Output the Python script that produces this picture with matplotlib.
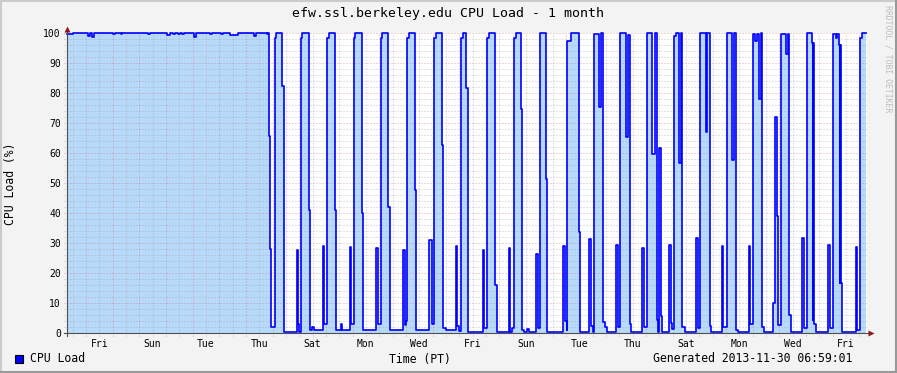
import matplotlib
matplotlib.use("Agg")
import matplotlib.pyplot as plt
from matplotlib.lines import Line2D
from matplotlib.patches import Rectangle

# hours since Thu 2013-10-31 07:00 PT, step values (CPU load %)
hours = [0.0, 5.1, 19.2, 20.7, 22.8, 24.0, 41.7, 43.2, 48.6, 49.8, 73.2, 74.7,
         89.7, 92.7, 95.7, 97.2, 100.2, 101.7, 103.8, 105.3, 114.3, 116.1,
         128.7, 130.2, 138.6, 140.7, 146.7, 153.6, 168.6, 170.1, 179.7, 180.9,
         182.1, 183.0, 183.9, 186.9, 188.1, 193.5, 195.0, 206.7, 207.6, 209.1,
         210.6, 211.8, 217.5, 219.0, 220.5, 221.9, 230.7, 231.6, 234.3, 235.5,
         241.2, 242.4, 246.6, 247.8, 255.0, 255.9, 258.0, 259.2, 265.2, 266.4,
         278.4, 279.6, 282.3, 283.5, 288.9, 291.0, 302.7, 303.9, 305.4, 306.0,
         307.5, 312.9, 314.4, 326.1, 328.2, 330.3, 331.8, 337.5, 338.7, 341.1,
         350.4, 351.3, 352.8, 354.9, 356.4, 359.4, 360.9, 374.4, 375.6, 377.7,
         379.5, 385.5, 387.0, 397.8, 399.0, 400.8, 402.3, 403.8, 408.3, 409.8,
         411.3, 414.3, 415.5, 422.4, 423.6, 425.7, 431.1, 432.3, 446.7, 447.9,
         449.7, 450.3, 453.3, 460.5, 461.4, 470.1, 471.3, 473.4, 474.3, 478.8,
         480.3, 482.7, 484.2, 486.0, 494.4, 495.6, 497.7, 503.1, 504.6, 506.4,
         507.3, 517.8, 519.6, 522.3, 526.8, 529.2, 530.7, 532.2, 533.1, 534.3,
         535.2, 541.8, 543.3, 544.5, 546.0, 548.1, 550.8, 552.3, 553.8, 556.2,
         566.4, 567.6, 570.0, 574.8, 576.3, 578.4, 579.3, 589.5, 590.7, 594.3,
         598.5, 600.0, 602.4, 603.9, 613.8, 615.0, 617.4, 619.2, 620.7, 622.8,
         624.3, 625.8, 627.3, 635.7, 637.5, 638.7, 639.6, 642.3, 647.1, 648.6,
         650.1, 651.6, 661.8, 663.0, 666.3, 670.2, 670.8, 671.2, 671.7, 672.1,
         672.6, 674.1, 685.2, 686.7, 689.1, 692.1, 693.3, 694.8, 695.4, 696.0,
         696.6, 697.2, 710.1, 711.3, 713.7, 715.2, 719.1]
load = [99.7, 100, 99.0, 100, 98.6, 100, 99.6, 100, 99.6, 100, 99.6, 100,
        99.3, 100, 99.6, 100, 99.6, 100, 99.6, 100, 98.6, 100,
        99.6, 100, 99.6, 100, 99.3, 100, 99.0, 100, 99.6, 100,
        65.6, 28.0, 1.9, 98.3, 100, 82.2, 0.3, 27.8, 3.0, 0.3,
        98.3, 100, 41.1, 1.1, 2.0, 0.9, 28.9, 3.0, 98.3, 100,
        41.1, 1.1, 3.0, 1.1, 28.6, 3.0, 98.3, 100, 40.0, 1.1,
        28.3, 3.0, 98.3, 100, 41.9, 1.1, 27.8, 2.7, 4.0, 98.3,
        100, 47.8, 1.1, 31.0, 3.0, 98.3, 100, 62.6, 1.7, 1.0,
        28.9, 2.3, 0.7, 98.3, 100, 81.7, 0.3, 27.8, 1.7, 98.3,
        100, 15.9, 0.3, 28.3, 0.3, 1.7, 98.3, 100, 74.7, 1.1,
        0.3, 1.5, 0.3, 26.4, 1.7, 100, 51.4, 0.4, 28.9, 3.9,
        1.0, 97.2, 100, 33.7, 0.3, 31.3, 2.3, 0.3, 99.7, 75.2,
        100, 3.7, 2.0, 0.3, 29.2, 2.0, 100, 65.2, 99.5, 3.0,
        0.3, 28.3, 2.0, 100, 59.7, 100, 4.3, 0.3, 61.7, 5.7,
        0.3, 29.2, 3.3, 1.5, 99.0, 100, 56.6, 100, 2.0, 0.3,
        31.7, 1.7, 100, 66.9, 100, 2.3, 0.3, 28.9, 2.0, 100,
        57.6, 100, 1.1, 0.3, 28.9, 3.0, 99.7, 97.2, 99.7, 78.0,
        100, 2.0, 0.3, 9.9, 71.9, 38.9, 2.7, 99.7, 93.0, 99.7,
        5.9, 0.3, 31.7, 1.7, 100, 98.3, 96.6, 4.5, 96.6, 4.5,
        3.0, 0.3, 29.4, 1.7, 99.7, 98.3, 99.7, 96.0, 16.8, 96.0,
        16.8, 0.3, 28.8, 1.1, 98.3, 100, 100]

day_labels = ["Fri", "Sun", "Tue", "Thu", "Sat", "Mon", "Wed", "Fri",
              "Sun", "Tue", "Thu", "Sat", "Mon", "Wed", "Fri"]
first_label = 29      # Fri noon
first_midnight = 17   # Fri 00:00
span = 720

W, H = 897, 373
mono = "DejaVu Sans Mono"
fig = plt.figure(figsize=(W / 100, H / 100), dpi=100, facecolor="#F3F3F3")
ax = fig.add_axes([67 / W, (H - 333) / H, 800 / W, 300 / H])
ax.set_facecolor("white")
ax.set_xlim(0, span)
ax.set_ylim(0, 100)
for s in ax.spines.values():
    s.set_visible(False)

ax.fill_between(hours, load, step="post", color="#B7D9FA", lw=0, zorder=1)

# grid (rrdtool style dotted, extends a bit beyond the axes as ticks)
px_x = span / 800.0
px_y = 100 / 300.0
dots = (0, (1, 2))
for v in range(0, 101, 2):
    major = v % 10 == 0
    ax.plot([-3 * px_x, span + 1 * px_x], [v, v], clip_on=False, lw=0.72, ls=dots,
            color="#C86464" if major else "#A0A0A0", alpha=0.55 if major else 0.6, zorder=2)
h = first_midnight - 12
while h < span:
    major = (h - first_midnight) % 24 == 0
    ax.plot([h, h], [-3 * px_y, 100], clip_on=False, lw=0.72, ls=dots,
            color="#C86464" if major else "#A0A0A0", alpha=0.55 if major else 0.6, zorder=2)
    h += 12

ax.step(hours, load, where="post", color="#0000FF", lw=1.2, zorder=3, clip_on=False)

# axes lines and arrows
ax.plot([0, 0], [-3 * px_y, 100 + 4 * px_y], color="#505050", lw=0.8, clip_on=False, zorder=4)
ax.plot([-3 * px_x, span + 3 * px_x], [0, 0], color="#505050", lw=0.8, clip_on=False, zorder=4)
ax.plot([0], [100 + 4 * px_y], marker="^", ms=5, color="#8B1A1A", clip_on=False, zorder=5, mec="none")
ax.plot([span + 4 * px_x], [0], marker=">", ms=5, color="#8B1A1A", clip_on=False, zorder=5, mec="none")

ax.set_yticks(range(0, 101, 10), [str(v) for v in range(0, 101, 10)])
ax.set_xticks([first_label + 48 * i for i in range(len(day_labels))], day_labels)
ax.tick_params(length=0, labelsize=7)
ax.tick_params(axis="y", pad=4.5)
ax.tick_params(axis="x", pad=4.5)
for lab in ax.get_xticklabels() + ax.get_yticklabels():
    lab.set_family(mono)

fig.text(448 / W, 1 - 13 / H, "efw.ssl.berkeley.edu CPU Load - 1 month",
         family=mono, fontsize=9.5, ha="center", va="center")
fig.text(11 / W, 1 - 184 / H, "CPU Load (%)", family=mono, fontsize=8.3,
         rotation=90, ha="center", va="center")
fig.text(888 / W, 1 - 5 / H, "RRDTOOL / TOBI OETIKER", family=mono, fontsize=5.9,
         rotation=270, ha="center", va="top", color="#BDBDBD")

fig.add_artist(Rectangle((15 / W, (H - 363) / H), 8 / W, 8 / H, transform=fig.transFigure,
                         facecolor="#0000FF", edgecolor="black", lw=0.8))
fig.text(30 / W, 1 - 359 / H, "CPU Load", family=mono, fontsize=8.3, ha="left", va="center")
fig.text(420 / W, 1 - 359 / H, "Time (PT)", family=mono, fontsize=8.3, ha="center", va="center")
fig.text(852 / W, 1 - 359 / H, "Generated 2013-11-30 06:59:01", family=mono, fontsize=8.3,
         ha="right", va="center")

# shaded frame
fig.add_artist(Line2D([0, 1], [1 - 0.5 / H, 1 - 0.5 / H], color="#CBCBCB", lw=1.5))
fig.add_artist(Line2D([0.5 / W, 0.5 / W], [0, 1], color="#CBCBCB", lw=1.5))
fig.add_artist(Line2D([0, 1], [1 / H, 1 / H], color="#999999", lw=1.5))
fig.add_artist(Line2D([1 - 1 / W, 1 - 1 / W], [0, 1], color="#999999", lw=1.5))

fig.savefig("out.png", dpi=100, facecolor=fig.get_facecolor())
